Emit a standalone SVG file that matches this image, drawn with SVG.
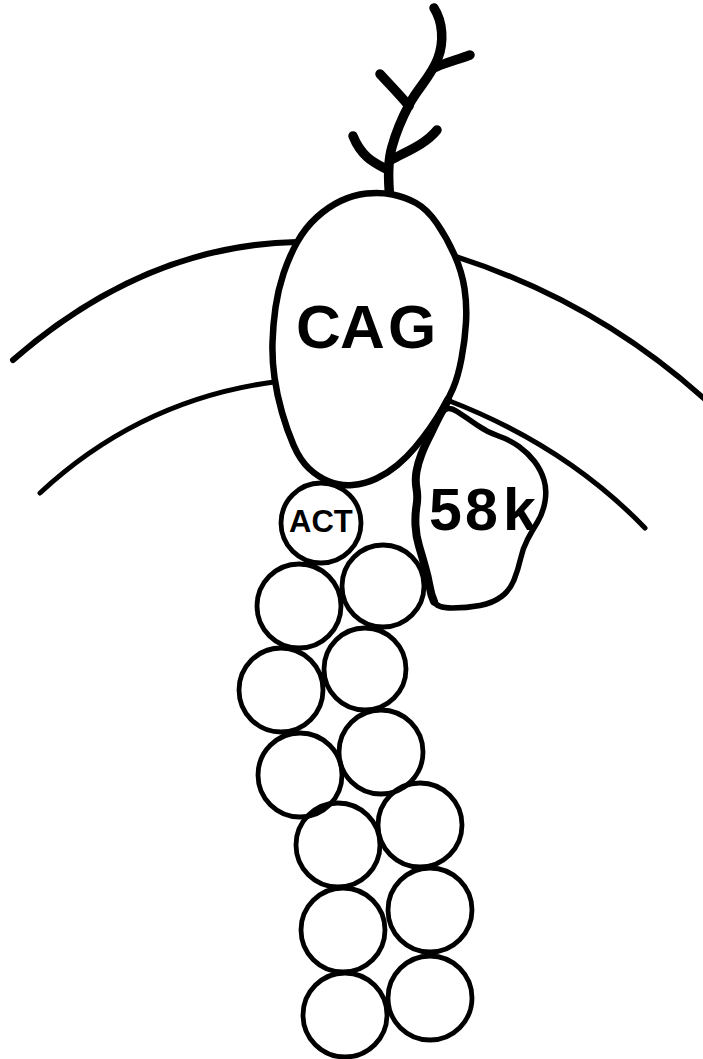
<svg xmlns="http://www.w3.org/2000/svg" width="703" height="1059" viewBox="0 0 703 1059">
  <style>
    .membrane { fill: none; stroke: #000; stroke-linecap: round; }
    .glycan { fill: none; stroke: #000; stroke-width: 9.5; stroke-linecap: round; stroke-linejoin: round; }
    .bead { fill: none; stroke: #000; stroke-width: 4.8; }
    .label { font-family: "Liberation Sans", Arial, sans-serif; font-weight: bold; fill: #000; }
  </style>
  <rect width="703" height="1059" fill="#fff"/>

  <!-- lipid bilayer -->
  <g id="membrane">
    <path class="membrane" stroke-width="6" d="M13,360 Q145,245 297,242"/>
    <path class="membrane" stroke-width="5.5" d="M457,257 Q600,303 710,404"/>
    <path class="membrane" stroke-width="5" d="M40,493 Q140,400 274,382"/>
    <path class="membrane" stroke-width="5" d="M447,400 Q565,445 645,528"/>
  </g>

  <!-- carbohydrate chain on CAG -->
  <g id="glycan">
    <path class="glycan" d="M390,200 C388,180 388,160 392,147 C396,132 402,118 410,103 C418,88 432,75 438,58 C444,42 443,22 434,8"/>
    <path class="glycan" stroke-width="8.5" d="M409,106 C400,95 390,85 380,74"/>
    <path class="glycan" stroke-width="8.5" d="M436,67 C448,62 460,59 470,55"/>
    <path class="glycan" stroke-width="8.5" d="M391,160 C405,152 425,145 437,130"/>
    <path class="glycan" stroke-width="8.5" d="M388,170 C375,163 362,158 353,136"/>
  </g>

  <!-- CAG -->
  <g id="cag">
    <path fill="#fff" stroke="#000" stroke-width="6.5" d="M366.5,193.5 Q380,192 392.5,194.5 Q405,197 416,203 Q427,209 437,223.5 Q447,238 454.5,255 Q462,272 464.5,288.5 Q467,305 466,322.5 Q465,340 461.5,358.5 Q458,377 453,388.5 Q448,400 442.5,409 Q437,418 430,428 Q423,438 415,447.5 Q407,457 397.5,465 Q388,473 376.5,478.5 Q365,484 352.5,485 Q340,486 329,481.5 Q318,477 309,468.5 Q300,460 293.5,445 Q287,430 282,412.5 Q277,395 274.5,377.5 Q272,360 272.5,342.5 Q273,325 275.5,307.5 Q278,290 283.5,273.5 Q289,257 297,242.5 Q305,228 316.5,217.5 Q328,207 340.5,201 Q353,195 366.5,193.5 Z"/>
    <text class="label" font-size="62" y="348"><tspan x="296">C</tspan><tspan x="340">A</tspan><tspan x="388">G</tspan></text>
  </g>

  <!-- 58k protein -->
  <g id="p58k">
    <path fill="#fff" stroke="#000" stroke-width="5.5" stroke-linejoin="round" d="M442.5,412.5 Q447,405 457,411.5 Q467,418 477,425 Q487,432 498.5,436 Q510,440 519,446.5 Q528,453 534.5,461.5 Q541,470 544,480 Q547,490 545,501.5 Q543,513 537.5,522 Q532,531 527.5,539.5 Q523,548 520.5,559 Q518,570 514,580 Q510,590 501.5,596.5 Q493,603 480,605.5 Q467,608 452,608 Q437,608 434,601.5 Q431,595 429.5,586 Q428,577 425,566.5 Q422,556 419,546 Q416,536 415.5,525.5 Q415,515 416.5,506 Q418,497 416.5,488.5 Q415,480 416.5,471.5 Q418,463 421.5,454 Q425,445 431.5,432.5 Q438,420 442.5,412.5 Z"/>
    <path fill="none" stroke="#000" stroke-width="8" stroke-linecap="round" d="M448,400 Q437,420 431.5,432.5 Q425,445 421.5,454 Q418,463 416.5,471.5 Q415,480 416.5,488.5 Q418,497 416.5,506 Q415,515 415.5,525.5 Q416,536 419,546 Q422,556 425,566.5 Q428,577 429.5,586 Q431,595 434,601.5"/>
    <text class="label" font-size="59" y="530"><tspan x="429">5</tspan><tspan x="465">8</tspan><tspan x="503">k</tspan></text>
  </g>

  <!-- actin -->
  <g id="act">
    <circle cx="321" cy="523" r="40" fill="#fff" stroke="#000" stroke-width="4.8"/>
    <text class="label" font-size="31" x="289" y="532">ACT</text>
  </g>

  <!-- filament subunits -->
  <g id="filament">
    <circle class="bead" cx="383" cy="586" r="41"/>
    <circle class="bead" cx="299" cy="606" r="42"/>
    <circle class="bead" cx="365" cy="669" r="41"/>
    <circle class="bead" cx="281" cy="690" r="42"/>
    <circle class="bead" cx="381" cy="752" r="42"/>
    <circle class="bead" cx="300" cy="775" r="42"/>
    <circle class="bead" cx="420" cy="825" r="42"/>
    <circle class="bead" cx="338" cy="845" r="42"/>
    <circle class="bead" cx="430" cy="910" r="42"/>
    <circle class="bead" cx="343" cy="930" r="42"/>
    <circle class="bead" cx="430" cy="998" r="42"/>
    <circle class="bead" cx="345" cy="1015" r="42"/>
  </g>
</svg>
